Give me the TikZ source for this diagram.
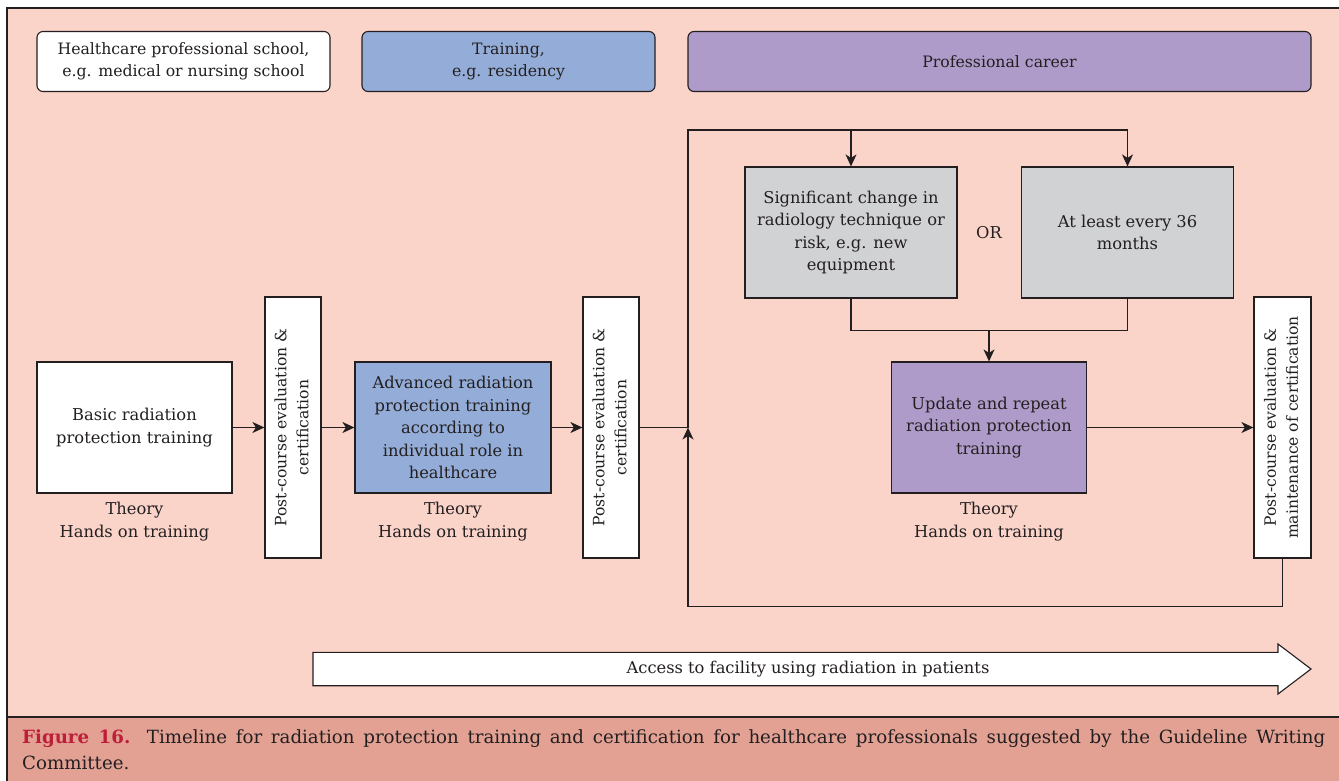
\documentclass[tikz,border=0pt]{standalone}
\usepackage{fontspec}
\setmainfont{DejaVu Serif}
\usetikzlibrary{arrows.meta}
\definecolor{bgpink}{RGB}{250,211,201}
\definecolor{capbg}{RGB}{227,161,148}
\definecolor{bluebox}{RGB}{148,173,216}
\definecolor{purplebox}{RGB}{175,155,201}
\definecolor{greybox}{RGB}{209,210,212}
\definecolor{linec}{RGB}{35,31,32}
\definecolor{capred}{RGB}{190,30,55}
\newcommand{\mainsz}{\fontsize{16.3}{22.5}\selectfont}
\newcommand{\rotsz}{\fontsize{15.6}{22}\selectfont}
\newcommand{\rottext}[2]{\rotatebox{90}{\rotsz\begin{tabular}{@{}c@{}}#1\\#2\end{tabular}}}
\tikzset{
  every node/.style={text=linec},
  hdr/.style={draw=linec, line width=1.1pt, rounded corners=6pt, minimum height=60pt, align=center,
     font=\fontsize{15.7}{21.5}\selectfont, inner sep=0pt},
  boxn/.style={draw=linec, line width=1.2pt, minimum width=195pt, minimum height=131pt, align=center,
     font=\mainsz, inner sep=0pt},
  postbox/.style={draw=linec, line width=1.2pt, fill=white, minimum width=56pt, minimum height=261pt, inner sep=0pt},
  lbl/.style={align=center, font=\mainsz, inner sep=0pt},
  conn/.style={draw=linec, line width=1.2pt},
  arr/.style={conn, -{Stealth[length=12pt,width=11pt,inset=3.5pt]}},
}
\begin{document}
\begin{tikzpicture}[x=1pt,y=-1pt]
\useasboundingbox (0,0) rectangle (1339,781);
% backgrounds
\fill[white] (0,0) rectangle (1339,781);
\fill[bgpink] (6.5,8) rectangle (1339,717);
\fill[capbg] (6.5,717) rectangle (1339,781);
\draw[linec, line width=2pt] (6.5,781) -- (6.5,8) -- (1339,8);
\draw[linec, line width=1.6pt] (6.5,717) -- (1339,717);

% header boxes
\node[hdr, fill=white, minimum width=293pt] (h1) at (183.5,61.5) {Healthcare professional school,\\e.g. medical or nursing school};
\node[hdr, fill=bluebox, minimum width=293pt] (h2) at (508.5,61.5) {Training,\\e.g. residency};
\node[hdr, fill=purplebox, minimum width=623pt] (h3) at (999.5,61.5) {Professional career};

% main row
\node[boxn, fill=white] (basic) at (134.5,427.5) {Basic radiation\\protection training};
\node[postbox] (post1) at (293,427.5) {\rottext{Post-course evaluation \&}{certification}};
\node[boxn, fill=bluebox, minimum width=196pt] (adv) at (453,427.5) {Advanced radiation\\protection training\\according to\\individual role in\\healthcare};
\node[postbox] (post2) at (611,427.5) {\rottext{Post-course evaluation \&}{certification}};

\node[boxn, fill=greybox, minimum width=212pt] (g1) at (851,232.5) {Significant change in\\radiology technique or\\risk, e.g. new\\equipment};
\node[boxn, fill=greybox, minimum width=212pt] (g2) at (1127.5,232.5) {At least every 36\\months};
\node[lbl] (or) at (989,232.5) {OR};
\node[boxn, fill=purplebox] (upd) at (989,427.5) {Update and repeat\\radiation protection\\training};
\node[postbox, minimum width=57pt] (post3) at (1282.5,427.5) {\rottext{Post-course evaluation \&}{maintenance of certification}};

% labels under boxes
\node[lbl] (th1) at (134.5,521.5) {Theory\\Hands on training};
\node[lbl] (th2) at (453,521.5) {Theory\\Hands on training};
\node[lbl] (th3) at (989,521.5) {Theory\\Hands on training};

% connectors
\coordinate (j) at (688,427.5);
\coordinate (t1) at (851,130);
\coordinate (t2) at (1127.5,130);
\coordinate (m) at (989,330.5);
\coordinate (b) at (688,606.5);
\draw[arr] (basic) -- (post1);
\draw[arr] (post1) -- (adv);
\draw[arr] (adv) -- (post2);
\draw[conn] (post2.east) -- (j);
\draw[arr] (j) |- (t2) -- (g2.north);
\draw[arr] (t1) -- (g1.north);
\draw[conn] (g1.south) |- (m) -| (g2.south);
\draw[arr] (m) -- (upd.north);
\draw[arr] (upd) -- (post3);
\draw[arr] (post3.south) |- (b) -- (j);

% access arrow
\draw[linec, line width=1.1pt, fill=white] (313,652.3) -- (1278,652.3) -- (1278,644) -- (1311,669) -- (1278,694) -- (1278,685.7) -- (313,685.7) -- cycle;
\node[lbl] (access) at (808,669) {Access to facility using radiation in patients};

% caption
\node[anchor=north west, inner sep=0pt, text width=1303pt, align=justify,
      font=\fontsize{18.2}{26.5}\selectfont] (cap) at (22,729)
  {\textcolor{capred}{\textbf{Figure 16.}} Timeline for radiation protection training and certification for healthcare professionals suggested by the Guideline Writing\linebreak Committee.};
\end{tikzpicture}
\end{document}
